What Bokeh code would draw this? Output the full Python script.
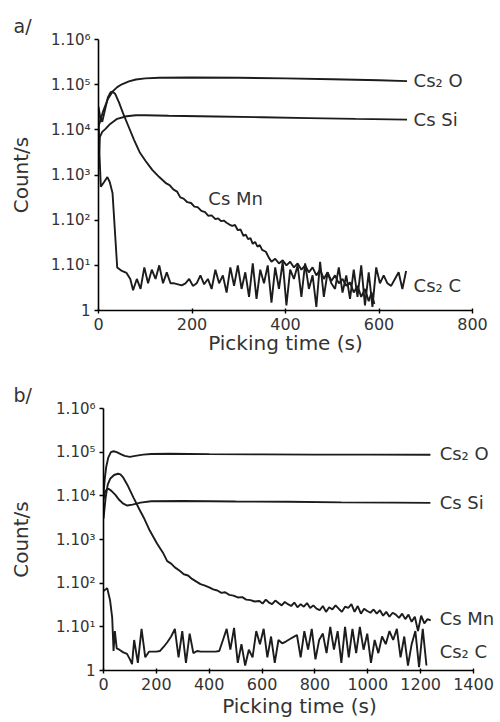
import numpy as np
from bokeh.plotting import figure
from bokeh.models import FixedTicker, CustomJSTickFormatter, Label, Range1d
from bokeh.layouts import column, row
from bokeh.embed import file_html
from bokeh.resources import INLINE

# ---------------- panel a data ----------------
a_xticks = [0, 200, 400, 600, 800]
y_ticks = [1, 10, 100, 1000, 10000, 100000, 1000000]

cs2o_a_t = [0, 4, 10, 20, 30, 40, 50, 65, 80, 100, 130, 200, 300, 400, 500, 600, 660]
cs2o_a_v = [1.2e4, 1.6e4, 2.6e4, 4.8e4, 7.0e4, 8.8e4, 1.02e5, 1.18e5, 1.30e5, 1.38e5,
            1.42e5, 1.44e5, 1.42e5, 1.38e5, 1.32e5, 1.25e5, 1.2e5]

cssi_a_t = [0, 3, 8, 15, 25, 40, 60, 80, 100, 150, 250, 350, 450, 550, 660]
cssi_a_v = [1.5e3, 7e3, 9e3, 1.05e4, 1.35e4, 1.75e4, 2.0e4, 2.1e4, 2.1e4, 2.05e4,
            1.98e4, 1.9e4, 1.82e4, 1.75e4, 1.68e4]

csmn_a_t = [0, 4, 8, 14, 20, 26, 30, 36, 44, 52, 64, 76, 88, 100, 115, 130, 145, 152, 160,
            168, 175, 182, 190, 198, 205, 212, 220, 228, 235, 242, 250, 256, 262, 268, 274,
            280, 286, 292, 298, 304, 310, 315, 320, 325, 330, 335, 340, 345, 350,
            358, 364, 370, 378, 386, 394, 402, 410, 418, 426, 434, 442, 450, 458, 466,
            474, 482, 490, 498, 506, 514, 522, 530, 538, 546, 554, 562, 570, 578, 584, 590]
csmn_a_v = [3.2e4, 1.8e4, 1.5e4, 2.8e4, 5.2e4, 6.8e4, 7.0e4, 6.2e4, 4.0e4, 2.4e4, 1.2e4,
            6.0e3, 3.2e3, 2.1e3, 1.3e3, 900, 650, 600, 480, 430, 320, 300, 250, 240, 200,
            195, 160, 150, 125, 128, 105, 110, 95, 98, 88, 80, 75, 78, 60, 62, 45, 48, 38,
            40, 30, 33, 26, 28, 22, 20, 15, 12, 14, 11, 13, 10, 12, 9, 11, 8, 10,
            7, 9, 6, 8, 5, 7, 4.5, 6, 4, 5, 3.5, 4.2, 2.5, 3.5, 2, 3, 1.6, 2.5, 1.4]

c2c_a_head_t = [0, 2, 5, 12, 19, 24, 30, 40, 50, 60, 68]
c2c_a_head_v = [2.5e4, 3e3, 550, 700, 900, 700, 400, 9, 7.5, 6.8, 5]
c2c_a_noise_t = list(range(74, 659, 8))
c2c_a_noise_v = [2.8, 5, 3, 9, 4, 8, 5, 10, 4, 7, 4,
                 4, 3.8, 3.6, 4, 5, 3.5, 4, 6, 3.8,
                 5, 3, 8, 4, 6, 2.5, 9, 3.5, 10, 3, 7, 2, 11, 1.8, 8, 4,
                 10, 1.5, 9, 3, 12, 1.3, 8, 5, 10, 2, 11, 3, 6, 1.2, 12, 2, 7, 4, 3, 9,
                 2.5, 6, 1.8, 8, 2, 10, 1.3, 7, 1.2, 9,
                 4, 6, 4, 3.5, 5, 7, 3, 7.5]

# ---------------- panel b data ----------------
b_xticks = [0, 200, 400, 600, 800, 1000, 1200, 1400]

cs2o_b_t = [0, 5, 10, 18, 28, 38, 50, 65, 80, 100, 120, 150, 180, 250, 400, 600, 800, 1000, 1237]
cs2o_b_v = [1.1e4, 2.5e4, 4.5e4, 7.5e4, 1.0e5, 1.05e5, 1.0e5, 9.0e4, 8.2e4, 7.8e4, 8.2e4,
            8.8e4, 9.1e4, 9.2e4, 9.0e4, 8.9e4, 8.8e4, 8.8e4, 8.7e4]

cssi_b_t = [0, 5, 12, 19, 30, 45, 60, 75, 90, 110, 140, 180, 300, 500, 700, 900, 1100, 1237]
cssi_b_v = [8e3, 1.2e4, 1.4e4, 1.45e4, 1.3e4, 1.05e4, 8e3, 6.6e3, 6.0e3, 6.3e3, 7.0e3,
            7.5e3, 7.6e3, 7.4e3, 7.3e3, 7.1e3, 7.0e3, 6.9e3]

csmn_b_head_t = [0, 8, 16, 26, 40, 55, 64, 75, 90, 114, 135, 152, 175, 203, 225, 241, 256,
                 270, 287, 304, 320, 335, 350, 367, 384, 400, 415, 431, 446, 460, 476, 492,
                 508, 525, 540, 556, 572]
csmn_b_head_v = [3e3, 9e3, 1.8e4, 2.5e4, 3.0e4, 3.2e4, 3.1e4, 2.6e4, 1.8e4, 9e3, 5e3, 3.2e3,
                 1.6e3, 800, 500, 320, 280, 230, 195, 160, 150, 125, 110, 95, 88, 80, 72, 68,
                 60, 62, 54, 52, 47, 48, 42, 41, 38]
csmn_b_noise_t = list(range(590, 1239, 12))
csmn_b_noise_v = [39, 34, 42, 36, 33, 40, 35, 31, 37, 33,
                  30, 36, 28, 33, 29, 35, 27, 31, 26,
                  24, 30, 22, 28, 25, 31, 26, 22, 29,
                  27, 33, 22, 30, 20, 26, 23, 21, 25,
                  20, 24, 18, 22, 17, 21, 19, 16, 20,
                  15, 19, 13, 17, 8, 18, 12, 15, 14]

c2c_b_head_t = [0, 14, 25, 33, 38, 43, 50, 60, 75, 89, 100, 108]
c2c_b_head_v = [66, 77, 40, 16, 2.8, 8, 3.2, 3, 2.6, 2.4, 1.8, 1.4]
c2c_b_noise_t = list(range(116, 1223, 14))
c2c_b_noise_v = [5, 1.5, 9, 2, 2.7, 2.7, 2.7, 2.8, 3.5, 4.5,
                 6, 9, 2, 8, 1.5, 7, 2.5, 2.8, 2.7, 2.7,
                 2.7, 2.7, 2.7, 2.8, 5, 9, 3, 9.5, 1.5, 4,
                 1.3, 3, 2, 8, 4, 9, 2, 6, 1.5, 5,
                 4.2, 4.6, 5.2, 5.8, 6.5, 2, 8, 3, 9, 1.8,
                 5, 7, 2.5, 10, 3, 8, 1.5, 10, 2, 9,
                 2.5, 10, 3, 7, 1.5, 5, 2.5, 6, 4, 8,
                 5, 9, 2, 6, 1.3, 4, 8, 1.2, 9, 1.3]

FONT = "DejaVu Sans"
TXT = "#333333"
LINE = "#1c1c1c"

fmt_code = """
const sup = ['\u2070','\u00b9','\u00b2','\u00b3','\u2074','\u2075','\u2076'];
const e = Math.round(Math.log10(tick));
return e == 0 ? '1' : '1.10' + sup[e];
"""


def make_panel(xmax, xend, xticks, fw, fh, bl, bt, bb, br, ylab_standoff, xlab_standoff, letter):
    p = figure(x_range=Range1d(0, xend), y_range=Range1d(1, 1e6), y_axis_type="log",
               frame_width=fw, frame_height=fh, min_border_left=bl, min_border_top=bt,
               min_border_bottom=bb, min_border_right=br,
               output_backend="svg", toolbar_location=None)
    p.outline_line_color = None
    p.grid.visible = False
    p.background_fill_color = "white"
    p.border_fill_color = "white"

    p.title.text = letter
    p.title.align = "left"
    p.title.offset = 13 - bl
    p.title.standoff = 5
    p.title.text_font = FONT
    p.title.text_font_size = "19px"
    p.title.text_font_style = "normal"
    p.title.text_color = TXT

    p.xaxis.ticker = FixedTicker(ticks=xticks)
    p.xaxis.bounds = (0, xmax)
    p.yaxis.ticker = FixedTicker(ticks=y_ticks)
    p.yaxis.formatter = CustomJSTickFormatter(code=fmt_code)
    for ax in (p.xaxis[0], p.yaxis[0]):
        ax.axis_line_color = "black"
        ax.axis_line_width = 1.6
        ax.major_tick_line_color = "black"
        ax.major_tick_line_width = 1.4
        ax.minor_tick_line_color = None
        ax.major_label_text_font = FONT
        ax.major_label_text_color = TXT
        ax.axis_label_text_font = FONT
        ax.axis_label_text_font_size = "20px"
        ax.axis_label_text_font_style = "normal"
        ax.axis_label_text_color = TXT
    p.xaxis.major_label_text_font_size = "16px"
    p.yaxis.major_label_text_font_size = "15px"
    p.xaxis.major_tick_in = 2
    p.xaxis.major_tick_out = 3
    p.xaxis.major_label_standoff = 4
    p.xaxis.axis_label_standoff = xlab_standoff
    p.yaxis.major_tick_in = 0
    p.yaxis.major_tick_out = 4
    p.yaxis.major_label_standoff = 4
    p.yaxis.axis_label_standoff = ylab_standoff
    p.xaxis.axis_label = "Picking time (s)"
    p.yaxis.axis_label = "Count/s"
    return p


def series_label(p, x, y, text):
    p.add_layout(Label(x=x, y=y, text=text, text_font=FONT, text_font_size="18px",
                       text_color=TXT, text_baseline="middle", text_align="left"))


LW = 1.9

# ---- panel a ----
pa = make_panel(800, 800, a_xticks, 374, 271, 98, 39, 47, 28, 15, -2, "a/")
pa.line(cs2o_a_t, cs2o_a_v, line_color=LINE, line_width=LW)
pa.line(cssi_a_t, cssi_a_v, line_color=LINE, line_width=LW)
pa.line(csmn_a_t, csmn_a_v, line_color=LINE, line_width=LW)
pa.line(c2c_a_head_t + c2c_a_noise_t, c2c_a_head_v + c2c_a_noise_v, line_color=LINE, line_width=LW)
series_label(pa, 674, 10 ** 5.09, "Cs\u2082 O")
series_label(pa, 674, 10 ** 4.22, "Cs Si")
series_label(pa, 235, 10 ** 2.49, "Cs Mn")
series_label(pa, 674, 10 ** 0.56, "Cs\u2082 C")

# ---- panel b ----
b_fw = 392
b_xend = 1400 * b_fw / 370
pb = make_panel(1400, b_xend, b_xticks, b_fw, 262, 103, 51, 44, 0, 20, 1, "b/")
pb.line(cs2o_b_t, cs2o_b_v, line_color=LINE, line_width=LW)
pb.line(cssi_b_t, cssi_b_v, line_color=LINE, line_width=LW)
pb.line(csmn_b_head_t + csmn_b_noise_t, csmn_b_head_v + csmn_b_noise_v, line_color=LINE, line_width=LW)
pb.line(c2c_b_head_t + c2c_b_noise_t, c2c_b_head_v + c2c_b_noise_v, line_color=LINE, line_width=LW)
series_label(pb, 1272, 10 ** 4.97, "Cs\u2082 O")
series_label(pb, 1272, 10 ** 3.84, "Cs Si")
series_label(pb, 1272, 10 ** 1.2, "Cs Mn")
series_label(pb, 1272, 10 ** 0.44, "Cs\u2082 C")

layout = column(row(pa), row(pb))
open("out.html", "w").write(file_html(layout, INLINE))
